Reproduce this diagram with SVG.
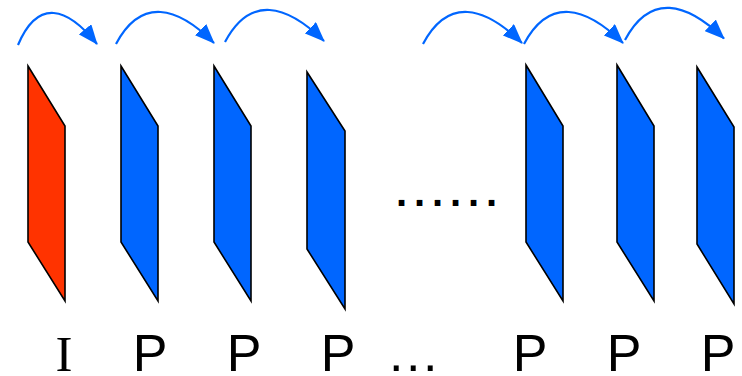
<svg xmlns="http://www.w3.org/2000/svg" width="742" height="376" viewBox="0 0 742 376">
<style>
.fr{stroke:#000;stroke-width:1.6;stroke-linejoin:miter}
.i{fill:#ff3300}
.p{fill:#0066ff}
.arr{fill:none;stroke:#0066ff;stroke-width:2.2;marker-end:url(#ah)}
.lbl{font-family:"Liberation Sans",Arial,sans-serif;font-size:52px;fill:#000;text-anchor:middle}
.ser{font-family:"Liberation Serif","Times New Roman",serif;font-size:51px;fill:#000;text-anchor:middle}
</style>
<defs>
<marker id="ah" markerUnits="userSpaceOnUse" markerWidth="20" markerHeight="16" refX="19" refY="8" orient="auto" viewBox="0 0 20 16">
<path d="M0,0 L20,8 L0,16 z" fill="#0066ff"/>
</marker>
</defs>
<rect width="742" height="376" fill="#fff"/>
<g id="connectors">
<path class="arr" d="M18,45 c20,-47 49,-38 79,-1"/>
<path class="arr" d="M116,44 c25,-47 61,-38 98,-1"/>
<path class="arr" d="M225,42 c25,-47 61,-38 99,-1"/>
<path class="arr" d="M423,44 c25,-47 61,-38 99,-1"/>
<path class="arr" d="M524,44 c25,-47 61,-38 99,-1"/>
<path class="arr" d="M625,40 c25,-47 61,-38 99,-1.5"/>
</g>
<g id="frame-I"><polygon class="fr i" points="28,66 65,126 65,301 28,242"/></g>
<g id="frame-P1"><polygon class="fr p" points="121,66 158,126 158,301 121,242"/></g>
<g id="frame-P2"><polygon class="fr p" points="214,66 251,126 251,301 214,242"/></g>
<g id="frame-P3"><polygon class="fr p" points="307,72 345,131 345,309 307,249"/></g>
<g id="frame-P4"><polygon class="fr p" points="526,65 563,126 563,301 526,242"/></g>
<g id="frame-P5"><polygon class="fr p" points="617,65 654,126 654,301 617,242"/></g>
<g id="frame-P6"><polygon class="fr p" points="697,67 734,127 734,304 697,244"/></g>
<g id="dots">
<text x="396" y="206" font-family="'Liberation Sans',Arial,sans-serif" font-size="40" font-weight="bold" letter-spacing="6.9">......</text>
</g>
<g id="labels">
<text class="ser" x="64" y="371">I</text>
<text class="lbl" x="150" y="371">P</text>
<text class="lbl" x="244" y="371">P</text>
<text class="lbl" x="338" y="371">P</text>
<text x="389" y="371" font-family="'Liberation Sans',Arial,sans-serif" font-size="52" letter-spacing="2.5">...</text>
<text class="lbl" x="530" y="371">P</text>
<text class="lbl" x="624" y="371">P</text>
<text class="lbl" x="718" y="371">P</text>
</g>
</svg>
